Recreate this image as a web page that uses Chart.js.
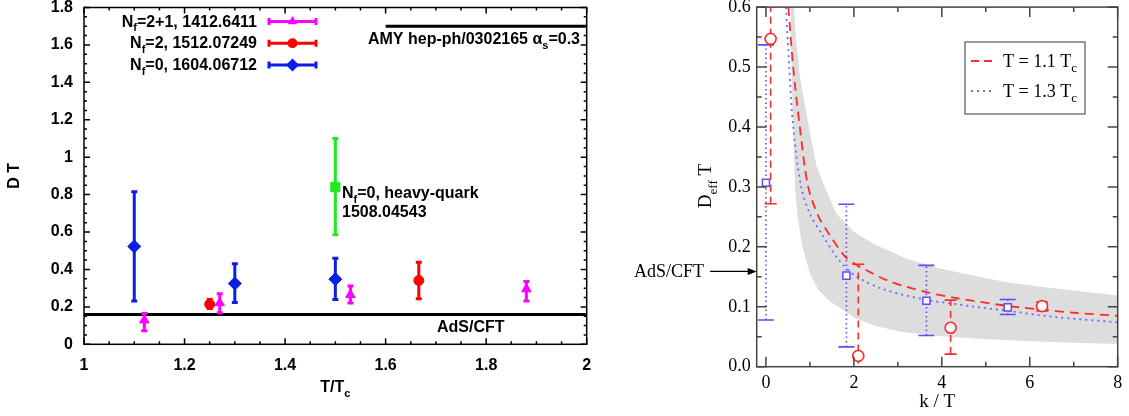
<!DOCTYPE html>
<html>
<head>
<meta charset="utf-8">
<script src="https://cdn.jsdelivr.net/npm/chart.js@4.4.1/dist/chart.umd.min.js"></script>
<style>
html,body{margin:0;padding:0;background:#fff;}
#left{position:absolute;left:0;top:0;}
#right{position:absolute;left:600px;top:0;}
</style>
</head>
<body>
<canvas id="left" width="600" height="416"></canvas>
<canvas id="right" width="529" height="416"></canvas>
<script>
// ---- left panel: D T against T/Tc ----
const nf21X=[1.12,1.27,1.53,1.88];
const nf21Y=[0.129,0.221,0.265,0.295];
const nf21Lo=[0.072,0.168,0.221,0.231];
const nf21Hi=[0.164,0.270,0.311,0.336];

const nf2X=[1.25,1.666];
const nf2Y=[0.214,0.341];
const nf2Lo=[0.191,0.244];
const nf2Hi=[0.239,0.438];

const nf0X=[1.1,1.3,1.5];
const nf0Y=[0.523,0.325,0.348];
const nf0Lo=[0.231,0.223,0.240];
const nf0Hi=[0.815,0.430,0.460];

const hqX=[1.5];
const hqY=[0.84];
const hqLo=[0.585];
const hqHi=[1.10];

const adsLeftX=[1,2];
const adsLeftY=[0.159,0.159];
const amyX=[1.6,2.0];
const amyY=[1.7,1.7];

const xTicksL=[1,1.2,1.4,1.6,1.8,2];
const yTicksL=[0,0.2,0.4,0.6,0.8,1,1.2,1.4,1.6,1.8];

// ---- right panel: D_eff T against k/T ----
const redK=[0.107,2.10,4.20,6.28];
const redY=[0.547,0.018,0.065,0.101];
const redLo=[0.272,-0.135,0.021,0.093];
const redHi=[0.822,0.171,0.111,0.108];

const blueK=[0,1.83,3.65,5.50];
const blueY=[0.307,0.152,0.110,0.099];
const blueLo=[0.078,0.033,0.052,0.087];
const blueHi=[0.537,0.271,0.169,0.112];

const redCurveK=[0.51,0.62,0.77,0.96,1.2,1.43,1.81,2.11,2.79,3.62,4.3,5.43,6.18,7.0,8.0];
const redCurveY=[0.6,0.5,0.4,0.3,0.25,0.222,0.183,0.168,0.143,0.125,0.115,0.102,0.096,0.090,0.085];

const blueCurveK=[0.455,0.53,0.62,0.80,1.0,1.28,1.66,2.03,2.64,3.62,4.67,5.43,6.56,8.0];
const blueCurveY=[0.6,0.5,0.4,0.3,0.255,0.22,0.178,0.152,0.130,0.112,0.101,0.094,0.083,0.074];

const bandUpK=[0.62,0.68,0.78,0.98,1.15,1.34,1.6,2.0,2.44,3.2,3.96,4.7,5.48,6.2,7.0,8.0];
const bandUpY=[0.62,0.55,0.48,0.40,0.335,0.30,0.255,0.225,0.205,0.18,0.164,0.152,0.141,0.134,0.127,0.119];
const bandLoK=[0.55,0.58,0.62,0.66,0.72,0.83,1.0,1.2,1.44,2.05,2.5,3.1,4.0,5.0,6.18,7.0,8.0];
const bandLoY=[0.62,0.5,0.4,0.3,0.25,0.2,0.155,0.127,0.11,0.08,0.068,0.058,0.051,0.046,0.042,0.040,0.038];

const adsRight=0.159;
const xTicksR=[0,2,4,6,8];
const yTicksR=[0,0.1,0.2,0.3,0.4,0.5,0.6];

const pts=(xs,ys)=>xs.map((v,i)=>({x:v,y:ys[i]}));

// write text with subscripts; parts = [[text, isSub], ...]
function rich(ctx,parts,x,y,align,size,family,weight){
  const sub=Math.round(size*0.7);
  let w=0;
  parts.forEach(p=>{ctx.font=weight+' '+(p[1]?sub:size)+'px '+family;w+=ctx.measureText(p[0]).width;});
  let cx=align==='right'?x-w:align==='center'?x-w/2:x;
  ctx.textAlign='left';ctx.textBaseline='alphabetic';
  parts.forEach(p=>{
    ctx.font=weight+' '+(p[1]?sub:size)+'px '+family;
    ctx.fillText(p[0],cx,p[1]?y+size*0.3:y);
    cx+=ctx.measureText(p[0]).width;
  });
}

function marker(ctx,style,x,y,r){
  ctx.beginPath();
  if(style==='triangle'){ctx.moveTo(x,y-r);ctx.lineTo(x+r*0.87,y+r*0.5);ctx.lineTo(x-r*0.87,y+r*0.5);}
  else if(style==='circle'){ctx.arc(x,y,r,0,Math.PI*2);}
  else if(style==='rectRot'){ctx.moveTo(x-r,y);ctx.lineTo(x,y-r);ctx.lineTo(x+r,y);ctx.lineTo(x,y+r);}
  ctx.closePath();ctx.fill();
}

const errorBars={
  id:'errorBars',
  beforeDatasetDraw(chart,args){
    const ds=chart.data.datasets[args.index];
    if(!ds.errLo)return;
    const {ctx,chartArea:a,scales:{x,y}}=chart;
    const e=ds.errStyle;
    ctx.save();
    ctx.beginPath();ctx.rect(a.left,a.top,a.right-a.left,a.bottom-a.top);ctx.clip();
    ctx.strokeStyle=e.color;
    ds.data.forEach((p,i)=>{
      const px=x.getPixelForValue(p.x);
      const lo=y.getPixelForValue(ds.errLo[i]);
      const hi=y.getPixelForValue(ds.errHi[i]);
      ctx.lineWidth=e.width;ctx.setLineDash(e.dash||[]);
      ctx.beginPath();ctx.moveTo(px,lo);ctx.lineTo(px,hi);ctx.stroke();
      ctx.setLineDash([]);ctx.lineWidth=e.capWidth;
      ctx.beginPath();
      ctx.moveTo(px-e.cap,lo);ctx.lineTo(px+e.cap,lo);
      ctx.moveTo(px-e.cap,hi);ctx.lineTo(px+e.cap,hi);
      ctx.stroke();
    });
    ctx.restore();
  }
};

// frame with inward ticks on all four sides
const frameTicks={
  id:'frameTicks',
  afterDraw(chart,args,o){
    const {ctx,chartArea:a,scales:{x,y}}=chart;
    ctx.save();
    ctx.strokeStyle=o.color;ctx.lineWidth=o.width;
    const isMajor=(v,s)=>Math.abs(v/s-Math.round(v/s))<1e-6;
    ctx.beginPath();
    for(let v=Math.ceil(x.min/o.xMinor-1e-9)*o.xMinor;v<=x.max+1e-9;v+=o.xMinor){
      const px=x.getPixelForValue(v);const l=isMajor(v,o.xMajor)?o.major:o.minor;
      ctx.moveTo(px,a.bottom);ctx.lineTo(px,a.bottom-l);
      ctx.moveTo(px,a.top);ctx.lineTo(px,a.top+l);
    }
    for(let v=Math.ceil(y.min/o.yMinor-1e-9)*o.yMinor;v<=y.max+1e-9;v+=o.yMinor){
      const py=y.getPixelForValue(v);const l=isMajor(v,o.yMajor)?o.major:o.minor;
      ctx.moveTo(a.left,py);ctx.lineTo(a.left+l,py);
      ctx.moveTo(a.right,py);ctx.lineTo(a.right-l,py);
    }
    ctx.stroke();
    ctx.strokeRect(a.left,a.top,a.right-a.left,a.bottom-a.top);
    ctx.restore();
  }
};

const SANS='"Liberation Sans", Arial, sans-serif';
const SERIF='"Liberation Serif", "Times New Roman", serif';

const leftText={
  id:'leftText',
  afterDraw(chart){
    const {ctx,chartArea:a,scales:{x,y}}=chart;
    ctx.save();
    ctx.fillStyle='#000';
    // axis titles
    ctx.save();ctx.translate(13,(a.top+a.bottom)/2);ctx.rotate(-Math.PI/2);
    rich(ctx,[['D T']],0,6,'center',16,SANS,'bold');ctx.restore();
    rich(ctx,[['T/T'],['c',1]],(a.left+a.right)/2,392,'center',16,SANS,'bold');
    // key
    const rows=[
      {t:[['N'],['f',1],['=2+1, 1412.6411']],c:'#ff00ff',m:'triangle',r:5.5,y:21.5},
      {t:[['N'],['f',1],['=2, 1512.07249']],c:'#ff0000',m:'circle',r:5,y:43.3},
      {t:[['N'],['f',1],['=0, 1604.06712']],c:'#0a1ee6',m:'rectRot',r:6.5,y:65}
    ];
    rows.forEach(r=>{
      ctx.fillStyle='#000';
      rich(ctx,r.t,257,r.y+5,'right',16,SANS,'bold');
      ctx.strokeStyle=r.c;ctx.fillStyle=r.c;ctx.lineWidth=3;
      ctx.beginPath();ctx.moveTo(268,r.y);ctx.lineTo(317,r.y);
      ctx.moveTo(269,r.y-3.5);ctx.lineTo(269,r.y+3.5);
      ctx.moveTo(316,r.y-3.5);ctx.lineTo(316,r.y+3.5);ctx.stroke();
      marker(ctx,r.m,292.5,r.y,r.r);
    });
    ctx.fillStyle='#000';
    rich(ctx,[['AMY hep-ph/0302165 \u03b1'],['s',1],['=0.3']],580,44,'right',16,SANS,'bold');
    rich(ctx,[['AdS/CFT']],437,332,'left',16,SANS,'bold');
    rich(ctx,[['N'],['f',1],['=0, heavy-quark']],342,198,'left',16,SANS,'bold');
    rich(ctx,[['1508.04543']],342,217,'left',16,SANS,'bold');
    ctx.restore();
  }
};

const rightText={
  id:'rightText',
  afterDraw(chart){
    const {ctx,chartArea:a,scales:{x,y}}=chart;
    ctx.save();
    ctx.fillStyle='#000';
    ctx.save();ctx.translate(105,186);ctx.rotate(-Math.PI/2);
    rich(ctx,[['D'],['eff',1],[' T']],0,6,'center',19,SERIF,'normal');ctx.restore();
    rich(ctx,[['k / T']],(a.left+a.right)/2,407,'center',19,SERIF,'normal');
    // AdS/CFT arrow
    const py=y.getPixelForValue(adsRight);
    rich(ctx,[['AdS/CFT']],34,py+6,'left',18,SERIF,'normal');
    ctx.strokeStyle='#000';ctx.lineWidth=1.2;
    ctx.beginPath();ctx.moveTo(110,py);ctx.lineTo(a.left-7,py);ctx.stroke();
    ctx.beginPath();ctx.moveTo(a.left,py);ctx.lineTo(a.left-9,py-3.5);ctx.lineTo(a.left-9,py+3.5);ctx.closePath();ctx.fill();
    // key box
    ctx.fillStyle='#fff';ctx.fillRect(365,42,120,72);
    ctx.strokeStyle='#555';ctx.lineWidth=1.2;ctx.strokeRect(365,42,120,72);
    ctx.lineWidth=1.8;
    ctx.strokeStyle='#ff2a2a';ctx.setLineDash([8,5]);
    ctx.beginPath();ctx.moveTo(371,61);ctx.lineTo(393,61);ctx.stroke();
    ctx.strokeStyle='#6a6aff';ctx.setLineDash([2,4]);
    ctx.beginPath();ctx.moveTo(371,91);ctx.lineTo(393,91);ctx.stroke();
    ctx.setLineDash([]);
    ctx.fillStyle='#000';
    rich(ctx,[['T = 1.1 T'],['c',1]],403,67,'left',18,SERIF,'normal');
    rich(ctx,[['T = 1.3 T'],['c',1]],403,97,'left',18,SERIF,'normal');
    ctx.restore();
  }
};

function fixAxis(size,vertical){
  return s=>{
    if(vertical)s.width=size;else s.height=size;
    s.paddingLeft=0;s.paddingRight=0;s.paddingTop=0;s.paddingBottom=0;
  };
}

const sansTick={family:SANS,weight:'bold',size:16};
const serifTick={family:SERIF,size:18};

new Chart(document.getElementById('left'),{
  type:'scatter',
  data:{datasets:[
    {data:pts(nf21X,nf21Y),errLo:nf21Lo,errHi:nf21Hi,
     errStyle:{color:'#ff00ff',width:3,capWidth:3,cap:3},
     pointStyle:'triangle',pointRadius:5.5,backgroundColor:'#ff00ff',borderColor:'#ff00ff',borderWidth:1},
    {data:pts(nf2X,nf2Y),errLo:nf2Lo,errHi:nf2Hi,
     errStyle:{color:'#ff0000',width:3,capWidth:3,cap:3},
     pointStyle:'circle',pointRadius:5,backgroundColor:'#ff0000',borderColor:'#ff0000',borderWidth:1},
    {data:pts(nf0X,nf0Y),errLo:nf0Lo,errHi:nf0Hi,
     errStyle:{color:'#0a1ee6',width:3,capWidth:3,cap:3},
     pointStyle:'rectRot',pointRadius:6.5,backgroundColor:'#0a1ee6',borderColor:'#0a1ee6',borderWidth:1},
    {data:pts(hqX,hqY),errLo:hqLo,errHi:hqHi,
     errStyle:{color:'#22e822',width:3,capWidth:3,cap:3},
     pointStyle:'rect',pointRadius:6.5,backgroundColor:'#22e822',borderColor:'#22e822',borderWidth:1},
    {data:pts(adsLeftX,adsLeftY),showLine:true,pointRadius:0,borderColor:'#000',borderWidth:3},
    {data:pts(amyX,amyY),showLine:true,pointRadius:0,borderColor:'#000',borderWidth:3}
  ]},
  options:{
    responsive:false,animation:false,
    layout:{padding:{left:0,top:5,right:13.3,bottom:0}},
    plugins:{legend:{display:false},tooltip:{enabled:false},
      frameTicks:{color:'#000',width:1.5,major:6,minor:3,xMajor:0.2,xMinor:0.05,yMajor:0.2,yMinor:0.05}},
    scales:{
      x:{type:'linear',min:1,max:2,grid:{display:false,drawTicks:false},border:{display:false},
         afterBuildTicks:s=>{s.ticks=xTicksL.map(v=>({value:v}));},
         afterFit:fixAxis(71.7,false),
         ticks:{padding:12,color:'#000',font:sansTick,maxRotation:0,autoSkip:false,callback:v=>String(v)}},
      y:{type:'linear',min:0,max:1.8,grid:{display:false,drawTicks:false},border:{display:false},
         afterBuildTicks:s=>{s.ticks=yTicksL.map(v=>({value:v}));},
         afterFit:fixAxis(84,true),
         ticks:{padding:11,color:'#000',font:sansTick,autoSkip:false,callback:v=>String(v)}}
    }
  },
  plugins:[errorBars,frameTicks,leftText]
});

const bandData=pts(bandUpK,bandUpY).concat(pts(bandLoK,bandLoY).reverse());

new Chart(document.getElementById('right'),{
  type:'scatter',
  data:{datasets:[
    {data:pts(redK,redY),errLo:redLo,errHi:redHi,
     errStyle:{color:'#ff2a2a',width:1.6,capWidth:1.6,cap:6,dash:[7,5]},
     pointStyle:'circle',pointRadius:5.5,backgroundColor:'#fff',borderColor:'#ff2a2a',borderWidth:1.6},
    {data:pts(blueK,blueY),errLo:blueLo,errHi:blueHi,
     errStyle:{color:'#5a4cff',width:1.6,capWidth:1.6,cap:8,dash:[1.5,3]},
     pointStyle:'rect',pointRadius:5,backgroundColor:'#fff',borderColor:'#5a4cff',borderWidth:1.5},
    {data:pts(redCurveK,redCurveY),showLine:true,pointRadius:0,borderColor:'#ff2a2a',borderWidth:1.8,borderDash:[9,6],tension:0.3},
    {data:pts(blueCurveK,blueCurveY),showLine:true,pointRadius:0,borderColor:'#6a6aff',borderWidth:1.8,borderDash:[2,4],tension:0.3},
    {data:bandData,showLine:true,pointRadius:0,borderWidth:0,borderColor:'rgba(0,0,0,0)',backgroundColor:'#dddddd',fill:'shape'}
  ]},
  options:{
    responsive:false,animation:false,
    layout:{padding:{left:0,top:5.7,right:11.3,bottom:0}},
    plugins:{legend:{display:false},tooltip:{enabled:false},
      frameTicks:{color:'#444',width:1.5,major:10,minor:5,xMajor:2,xMinor:1,yMajor:0.1,yMinor:0.05}},
    scales:{
      x:{type:'linear',min:-0.21,max:8,grid:{display:false,drawTicks:false},border:{display:false},
         afterBuildTicks:s=>{s.ticks=xTicksR.map(v=>({value:v}));},
         afterFit:fixAxis(49.3,false),
         ticks:{padding:6,color:'#000',font:serifTick,maxRotation:0,autoSkip:false,callback:v=>String(v)}},
      y:{type:'linear',min:0,max:0.6,grid:{display:false,drawTicks:false},border:{display:false},
         afterBuildTicks:s=>{s.ticks=yTicksR.map(v=>({value:v}));},
         afterFit:fixAxis(156.7,true),
         ticks:{padding:6,color:'#000',font:serifTick,autoSkip:false,callback:v=>v.toFixed(1)}}
    }
  },
  plugins:[errorBars,frameTicks,rightText]
});
</script>
</body>
</html>
